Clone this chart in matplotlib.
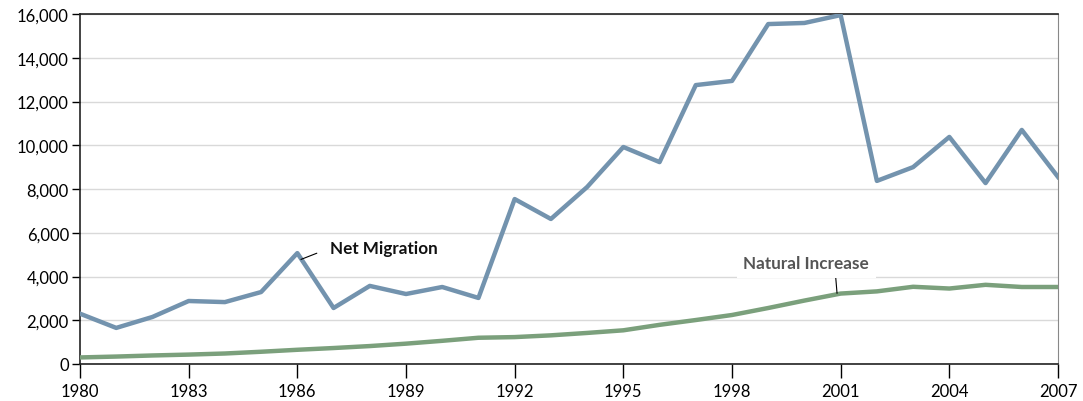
import numpy as np
import matplotlib.pyplot as plt
from matplotlib.ticker import FuncFormatter

years = list(range(1980, 2008))
net_migration = [2300, 1650, 2150, 2880, 2830, 3290, 5070, 2560, 3570, 3200,
                 3520, 3020, 7540, 6630, 8090, 9920, 9230, 12750, 12940, 15540,
                 15590, 15950, 8370, 9000, 10380, 8270, 10700, 8550]
natural_increase = [300, 340, 390, 430, 480, 560, 650, 730, 820, 930,
                    1060, 1200, 1230, 1310, 1420, 1540, 1790, 2010, 2240, 2560,
                    2900, 3220, 3320, 3530, 3450, 3620, 3520, 3520]

plt.rcParams['font.family'] = ['Lato', 'DejaVu Sans']

fig = plt.figure(figsize=(10.83, 4.02), dpi=100)
ax = fig.add_axes([80/1083, 1 - 365/402, (1058-80)/1083, 350/402])

ax.plot(years, net_migration, color='#7393ae', linewidth=3.2, zorder=3)
ax.plot(years, natural_increase, color='#7ba07c', linewidth=3.2, zorder=3)

ax.set_xlim(1980, 2007)
ax.set_ylim(0, 16000)
ax.set_xticks(range(1980, 2008, 3))
ax.set_yticks(range(0, 16001, 2000))
ax.yaxis.set_major_formatter(FuncFormatter(lambda v, p: f"{int(v):,}"))
ax.grid(axis='y', color='#d9d9d9', linewidth=1)
ax.set_axisbelow(True)

ax.tick_params(axis='y', direction='out', length=6, width=1, labelsize=12, pad=2)
ax.tick_params(axis='x', direction='out', length=10, width=1, labelsize=12, pad=4)
for s in ['left', 'bottom', 'top']:
    ax.spines[s].set_color('#222222')
    ax.spines[s].set_linewidth(1.2)
ax.spines['right'].set_color('#888888')

ax.annotate('Net Migration', xy=(1986.1, 4780), xytext=(1986.9, 5300),
            fontsize=12.3, fontweight='bold', color='#111111', va='center', ha='left',
            arrowprops=dict(arrowstyle='-', color='black', lw=0.8, shrinkA=8, shrinkB=0,
                            relpos=(0, 0.5)))
ax.annotate('Natural Increase', xy=(2000.9, 3230), xytext=(2000.05, 4620),
            fontsize=12.3, fontweight='bold', color='#555555', va='center', ha='center',
            bbox=dict(boxstyle='square,pad=0.4', fc='white', ec='none'),
            arrowprops=dict(arrowstyle='-', color='black', lw=0.8, shrinkA=0, shrinkB=0,
                            relpos=(0.73, 0)))

fig.savefig('out.png', dpi=100)
